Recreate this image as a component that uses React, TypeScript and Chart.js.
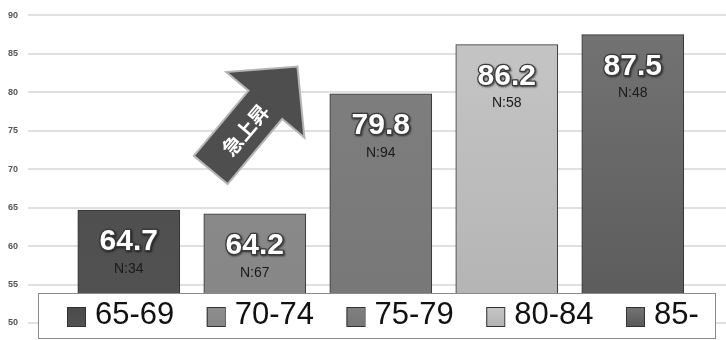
import React, { useEffect, useRef } from 'react';
import { Chart, registerables } from 'chart.js';
Chart.register(...registerables);

const categories = ['65-69', '70-74', '75-79', '80-84', '85-'];
const values = [64.7, 64.2, 79.8, 86.2, 87.5];
const counts = [34, 67, 94, 58, 48];
const yTicks = [50, 55, 60, 65, 70, 75, 80, 85, 90];
const arrowLabel = '急上昇';
const colorsTop = ['#4a4a4a', '#8e8e8e', '#808080', '#c6c6c6', '#747474'];
const colorsBottom = ['#525252', '#868686', '#777777', '#b3b3b3', '#5a5a5a'];

const labelsPlugin = {
  id: 'barLabels',
  afterDatasetsDraw(chart: any) {
    const ctx = chart.ctx;
    const meta = chart.getDatasetMeta(0);
    ctx.save();
    ctx.textAlign = 'center';
    ctx.textBaseline = 'middle';
    meta.data.forEach((el: any, i: number) => {
      const x = el.x;
      const top = el.y;
      ctx.font = 'bold 30px "Liberation Sans", Arial, sans-serif';
      ctx.save();
      ctx.shadowColor = 'rgba(0,0,0,0.6)';
      ctx.shadowBlur = 2;
      ctx.shadowOffsetX = 1;
      ctx.shadowOffsetY = 1;
      ctx.lineWidth = 2.5;
      ctx.strokeStyle = '#3a3a3a';
      ctx.lineJoin = 'round';
      ctx.strokeText(values[i].toFixed(1), x, top + 32);
      ctx.restore();
      ctx.fillStyle = '#ffffff';
      ctx.fillText(values[i].toFixed(1), x, top + 32);
      ctx.font = '14px "Liberation Sans", Arial, sans-serif';
      ctx.fillStyle = '#1a1a1a';
      ctx.fillText('N:' + counts[i], x, top + 59);
    });

    // arrow annotation anchored on the scales
    const xs = chart.scales.x;
    const ys = chart.scales.y;
    const tx = xs.getPixelForValue(0.65);
    const ty = ys.getPixelForValue(69.9);
    ctx.save();
    ctx.translate(tx, ty);
    ctx.rotate(-50 * Math.PI / 180);
    ctx.beginPath();
    ctx.moveTo(0, -22);
    ctx.lineTo(85, -22);
    ctx.lineTo(85, -51);
    ctx.lineTo(135, 0);
    ctx.lineTo(85, 51);
    ctx.lineTo(85, 22);
    ctx.lineTo(0, 22);
    ctx.closePath();
    ctx.fillStyle = '#4e4e4e';
    ctx.fill();
    ctx.lineWidth = 2;
    ctx.strokeStyle = '#b5b5b5';
    ctx.stroke();
    ctx.fillStyle = '#ffffff';
    ctx.font = 'bold 20px "Noto Sans CJK JP", sans-serif';
    ctx.textAlign = 'center';
    ctx.textBaseline = 'middle';
    ctx.fillText(arrowLabel, 53, 1);
    ctx.restore();
    ctx.restore();
  },
  afterDraw(chart: any) {
    const ctx = chart.ctx;
    ctx.save();
    ctx.fillStyle = '#ffffff';
    ctx.fillRect(38.5, 293.5, 677, 45);
    ctx.strokeStyle = '#8a8a8a';
    ctx.lineWidth = 1;
    ctx.strokeRect(38.5, 293.5, 677, 45);
    ctx.textBaseline = 'middle';
    ctx.textAlign = 'left';
    ctx.font = '31px "Liberation Sans", Arial, sans-serif';
    categories.forEach((c, i) => {
      const sx = 67 + i * 139.75;
      const sy = 307;
      const g = ctx.createLinearGradient(0, sy, 0, sy + 19);
      g.addColorStop(0, colorsTop[i]);
      g.addColorStop(1, colorsBottom[i]);
      ctx.fillStyle = g;
      ctx.fillRect(sx, sy, 18, 19);
      ctx.strokeStyle = '#333333';
      ctx.strokeRect(sx + 0.5, sy + 0.5, 18, 19);
      ctx.fillStyle = '#111111';
      ctx.fillText(c, sx + 28, 315);
    });
    ctx.restore();
  },
};

export default function App() {
  const ref = useRef<HTMLCanvasElement>(null);
  useEffect(() => {
    if (!ref.current) return;
    const chart = new Chart(ref.current, {
      type: 'bar',
      data: {
        datasets: [
          {
            data: values.map((v, i) => ({ x: i, y: v })),
            backgroundColor: (c: any) => {
              const area = c.chart.chartArea;
              const i = c.dataIndex;
              if (!area) return colorsTop[i];
              const g = c.chart.ctx.createLinearGradient(0, area.top, 0, area.bottom);
              g.addColorStop(0, colorsTop[i]);
              g.addColorStop(1, colorsBottom[i]);
              return g;
            },
            borderColor: '#333333',
            borderWidth: 1,
            barThickness: 102,
          } as any,
        ],
      },
      options: {
        animation: false,
        responsive: false,
        maintainAspectRatio: false,
        layout: { padding: { left: 7, right: 0, top: 13, bottom: 17 } },
        plugins: { legend: { display: false }, tooltip: { enabled: false } },
        scales: {
          x: { type: 'linear', min: -0.8, max: 4.74, offset: false, display: false, grid: { offset: false } },
          y: {
            min: 50,
            max: 90,
            afterBuildTicks: (s: any) => {
              s.ticks = yTicks.map((v) => ({ value: v }));
            },
            afterFit: (s: any) => {
              s.width = 21;
            },
            ticks: {
              color: '#555555',
              padding: 10,
              font: { family: '"Liberation Sans", Arial, sans-serif', size: 9, weight: 'bold' },
            },
            grid: { color: '#e0e0e0', lineWidth: 2, drawTicks: false },
            border: { display: false },
          },
        },
      } as any,
      plugins: [labelsPlugin],
    });
    return () => chart.destroy();
  }, []);
  return (
    <div style={{ position: 'fixed', left: 0, top: 0, width: 726, height: 340, background: '#ffffff' }}>
      <canvas ref={ref} width={726} height={340} style={{ display: 'block' }} />
    </div>
  );
}
